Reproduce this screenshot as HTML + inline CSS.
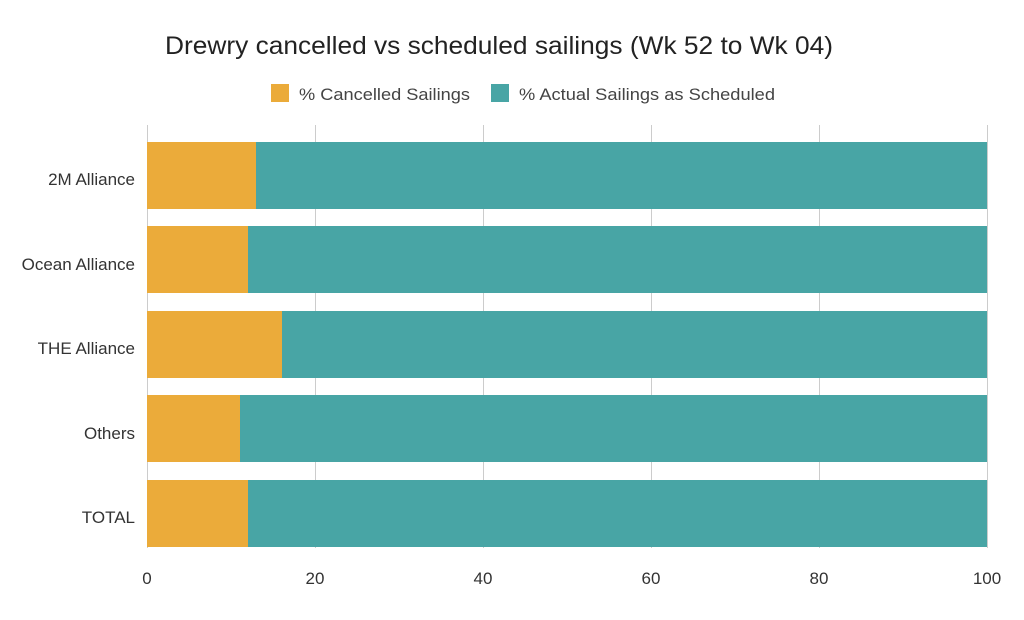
<!DOCTYPE html>
<html><head><meta charset="utf-8"><style>body{margin:0;background:#fff}</style></head><body>
<svg width="1024" height="615" xmlns="http://www.w3.org/2000/svg" font-family="Liberation Sans, Arial, sans-serif">
<rect width="1024" height="615" fill="#fff"/>
<text x="165" y="54" font-size="25" fill="#222" textLength="668" lengthAdjust="spacingAndGlyphs">Drewry cancelled vs scheduled sailings (Wk 52 to Wk 04)</text>
<rect x="271" y="84" width="18" height="18" fill="#ebab3a"/>
<text x="299" y="100" font-size="17" fill="#444" textLength="171" lengthAdjust="spacingAndGlyphs">% Cancelled Sailings</text>
<rect x="491" y="84" width="18" height="18" fill="#48a5a5"/>
<text x="519" y="100" font-size="17" fill="#444" textLength="256" lengthAdjust="spacingAndGlyphs">% Actual Sailings as Scheduled</text>
<g stroke="#ccc" stroke-width="1">
<line x1="147.5" y1="125" x2="147.5" y2="548"/><line x1="315.5" y1="125" x2="315.5" y2="548"/>
<line x1="483.5" y1="125" x2="483.5" y2="548"/><line x1="651.5" y1="125" x2="651.5" y2="548"/>
<line x1="819.5" y1="125" x2="819.5" y2="548"/><line x1="987.5" y1="125" x2="987.5" y2="548"/>
</g>
<g>
<rect x="147" y="142" width="109" height="67" fill="#ebab3a"/><rect x="256" y="142" width="731" height="67" fill="#48a5a5"/>
<rect x="147" y="226" width="101" height="67" fill="#ebab3a"/><rect x="248" y="226" width="739" height="67" fill="#48a5a5"/>
<rect x="147" y="311" width="135" height="67" fill="#ebab3a"/><rect x="282" y="311" width="705" height="67" fill="#48a5a5"/>
<rect x="147" y="395" width="93" height="67" fill="#ebab3a"/><rect x="240" y="395" width="747" height="67" fill="#48a5a5"/>
<rect x="147" y="480" width="101" height="67" fill="#ebab3a"/><rect x="248" y="480" width="739" height="67" fill="#48a5a5"/>
</g>
<g font-size="17" fill="#333" text-anchor="end">
<text x="135" y="185">2M Alliance</text>
<text x="135" y="270">Ocean Alliance</text>
<text x="135" y="354">THE Alliance</text>
<text x="135" y="439">Others</text>
<text x="135" y="523">TOTAL</text>
</g>
<g font-size="17" fill="#333" text-anchor="middle">
<text x="147" y="584">0</text><text x="315" y="584">20</text><text x="483" y="584">40</text>
<text x="651" y="584">60</text><text x="819" y="584">80</text><text x="987" y="584">100</text>
</g>
</svg>
</body></html>
